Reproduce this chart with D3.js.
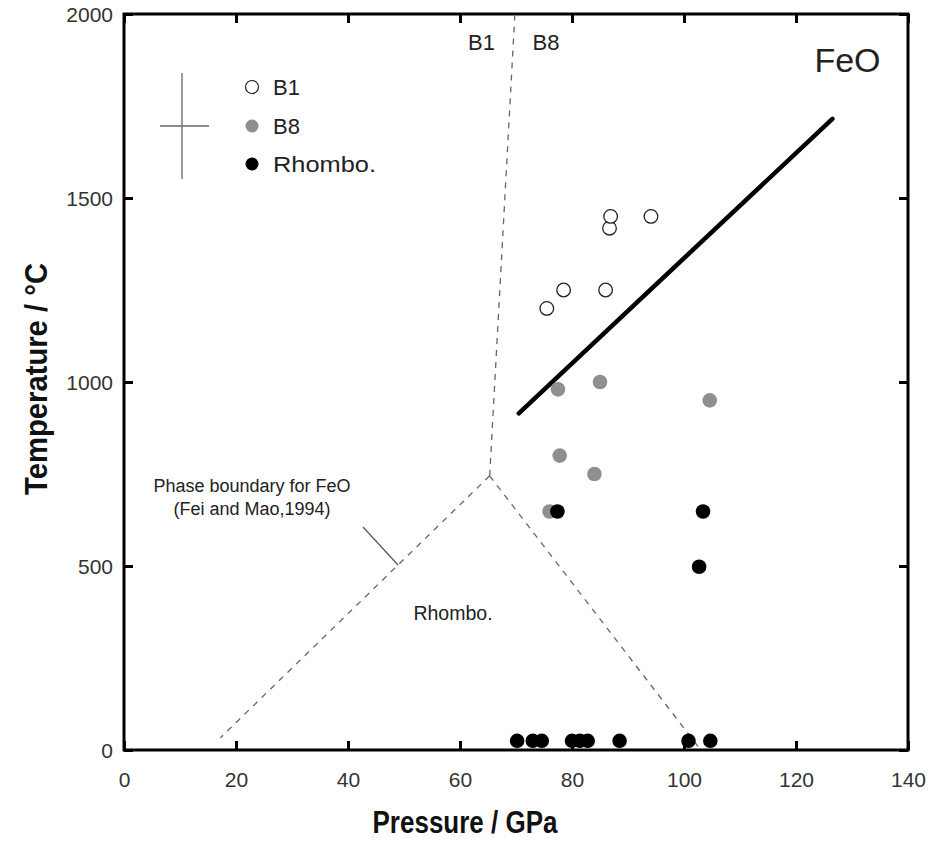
<!DOCTYPE html>
<html><head><meta charset="utf-8">
<script src="https://cdn.jsdelivr.net/npm/d3@7"></script>
<style>body{margin:0;background:#fff}svg{display:block}text{font-family:"Liberation Sans",Arial,sans-serif}</style>
</head><body><svg id="c" width="928" height="852"></svg>
<script>
const xTicks = [0,20,40,60,80,100,120,140];
const yTicks = [0,500,1000,1500,2000];
const b1P = [75.5,78.5,86,86.7,86.9,94.1];
const b1T = [1200,1250,1250,1418,1450,1450];
const b8P = [77.5,85,104.6,77.8,84,76];
const b8T = [980,1000,950,800,750,648];
const rhP = [77.4,103.4,102.7,70.2,73,74.6,80,81.4,82.8,88.5,100.8,104.7];
const rhT = [648,648,498,25,25,25,25,25,25,25,25,25];
const fitP = [70.5,126.5];
const fitT = [915,1715];
const boundB1B8P = [65.3,69.8];
const boundB1B8T = [745,2000];
const boundB1RhP = [65.3,17.2];
const boundB1RhT = [745,33];
const boundB8RhP = [65.3,102.5];
const boundB8RhT = [745,10];

const svg = d3.select("#c");
const m = {l:124,r:908,t:14,b:750};
const x = d3.scaleLinear().domain([0,140]).range([m.l,m.r]);
const y = d3.scaleLinear().domain([0,2000]).range([m.b,m.t]);

svg.append("rect").attr("x",m.l).attr("y",m.t).attr("width",m.r-m.l).attr("height",m.b-m.t)
  .attr("fill","none").attr("stroke","#000").attr("stroke-width",3);

const tl = 9;
const fmt = d3.format("d");
const axB = svg.append("g").attr("transform",`translate(0,${m.b})`).call(d3.axisBottom(x).tickValues(xTicks).tickSize(-tl).tickPadding(22).tickFormat(fmt));
const axT = svg.append("g").attr("transform",`translate(0,${m.t})`).call(d3.axisTop(x).tickValues(xTicks).tickSize(-tl).tickFormat(""));
const axL = svg.append("g").attr("transform",`translate(${m.l},0)`).call(d3.axisLeft(y).tickValues(yTicks).tickSize(-tl).tickPadding(11).tickFormat(fmt));
const axR = svg.append("g").attr("transform",`translate(${m.r},0)`).call(d3.axisRight(y).tickValues(yTicks).tickSize(-tl).tickFormat(""));
[axB,axT,axL,axR].forEach(a=>{
  a.select(".domain").remove();
  a.selectAll(".tick line").attr("stroke","#000").attr("stroke-width",3);
  a.selectAll(".tick text").attr("font-size",21).attr("fill","#333")
   .style("font-family","'Liberation Sans',Arial,sans-serif");
});
axB.selectAll(".tick text").attr("dy","0");
axB.selectAll(".tick text").attr("y",37);
axL.selectAll(".tick text").attr("dy","0.36em");

function seg(P,T,attrs){
  const l = svg.append("line").attr("x1",x(P[0])).attr("y1",y(T[0])).attr("x2",x(P[1])).attr("y2",y(T[1]));
  for (const k in attrs) l.attr(k,attrs[k]);
  return l;
}
const dashed = {stroke:"#666","stroke-width":1.3,"stroke-dasharray":"6,6"};
seg(boundB1B8P,boundB1B8T,dashed);
seg(boundB1RhP,boundB1RhT,dashed);
seg(boundB8RhP,boundB8RhT,dashed);

seg(fitP,fitT,{stroke:"#000","stroke-width":4.5,"stroke-linecap":"round"});

svg.append("line").attr("x1",363).attr("y1",527).attr("x2",398).attr("y2",565).attr("stroke","#555").attr("stroke-width",1.2);

const r = 7.3;
svg.append("g").selectAll("circle").data(b8P.map((p,i)=>[p,b8T[i]])).join("circle")
  .attr("cx",d=>x(d[0])).attr("cy",d=>y(d[1])).attr("r",r).attr("fill","#8f8f8f");
svg.append("g").selectAll("circle").data(rhP.map((p,i)=>[p,rhT[i]])).join("circle")
  .attr("cx",d=>x(d[0])).attr("cy",d=>y(d[1])).attr("r",r).attr("fill","#000");
svg.append("g").selectAll("circle").data(b1P.map((p,i)=>[p,b1T[i]])).join("circle")
  .attr("cx",d=>x(d[0])).attr("cy",d=>y(d[1])).attr("r",r-0.5).attr("fill","#fff").attr("stroke","#222").attr("stroke-width",1.3);

svg.append("line").attr("x1",182).attr("y1",73).attr("x2",182).attr("y2",179).attr("stroke","#666").attr("stroke-width",1.3);
svg.append("line").attr("x1",160).attr("y1",126).attr("x2",209).attr("y2",126).attr("stroke","#666").attr("stroke-width",1.3);
const legLabels = ["B1","B8","Rhombo."];
const legFill = ["#fff","#8f8f8f","#000"];
const legY = [87,126,164];
legLabels.forEach((t,i)=>{
  svg.append("circle").attr("cx",252).attr("cy",legY[i]).attr("r",6.5).attr("fill",legFill[i])
    .attr("stroke",i===0?"#222":"none").attr("stroke-width",1.2);
  const e = svg.append("text").attr("x",273).attr("y",legY[i]+8).attr("font-size",22).attr("fill","#222").text(t);
  if (i===2) e.attr("textLength",103).attr("lengthAdjust","spacingAndGlyphs");
});

function txt(t,xx,yy,fs,anchor,extra){
  const e = svg.append("text").attr("x",xx).attr("y",yy).attr("font-size",fs).attr("text-anchor",anchor||"middle").attr("fill","#222").text(t);
  if (extra) for (const k in extra) e.attr(k,extra[k]);
  return e;
}
txt("B1",481.5,50,22);
txt("B8",546,50,22);
txt("FeO",847.5,72,34);
txt("Phase boundary for FeO",252,492,18);
txt("(Fei and Mao,1994)",252,515,18);
txt("Rhombo.",453,620,19.5);

txt("Pressure / GPa",465,833,32,"middle",{"font-weight":"bold","fill":"#111","textLength":185,"lengthAdjust":"spacingAndGlyphs"});
svg.append("text").attr("transform","translate(47,379) rotate(-90)").attr("text-anchor","middle")
  .attr("font-size",31).attr("font-weight","bold").attr("fill","#111")
  .attr("textLength",232).attr("lengthAdjust","spacingAndGlyphs").text("Temperature / °C");
</script></body></html>
